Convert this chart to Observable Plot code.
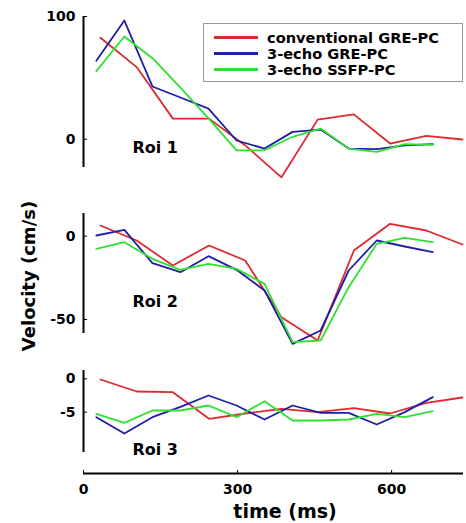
<!DOCTYPE html>
<html><head><meta charset="utf-8">
<script src="https://cdn.jsdelivr.net/npm/d3@7"></script>
<script src="https://cdn.jsdelivr.net/npm/@observablehq/plot@0.6"></script>
<style>
body{margin:0;background:#fff;}
#chart{position:relative;width:466px;height:523px;font-family:"DejaVu Sans",sans-serif;font-weight:bold;color:#000;overflow:hidden;}
#chart svg{position:absolute;left:0;overflow:visible;background:transparent;}
.lbl{position:absolute;white-space:nowrap;line-height:1;}
#legend{position:absolute;left:203px;top:23px;width:258px;height:57px;border:1px solid #999;background:#fff;}
.row{position:absolute;left:0;height:15px;}
.sw{position:absolute;left:10px;width:44px;height:3px;top:6px;}
.tx{position:absolute;left:63px;top:0;font-size:14.6px;line-height:15px;white-space:nowrap;}
</style></head><body><div id="chart"></div>
<script>
const seriesNames = ["conventional GRE-PC", "3-echo GRE-PC", "3-echo SSFP-PC"];
const seriesColors = ["#dc2a2e", "#1e1ea6", "#30e030"];
const roiLabels = ["Roi 1", "Roi 2", "Roi 3"];
const xTicks = [0, 300, 600];
const yTicks1 = [0, 100];
const yTicks2 = [-50, 0];
const yTicks3 = [-5, 0];

// time samples (ms)
const tConv = [33, 103.5, 174, 244.5, 315, 385.5, 456, 526.5, 597, 667.5, 738];
const tEcho = [25, 79.6, 134.2, 188.8, 243.4, 298, 352.6, 407.2, 461.8, 516.4, 571, 625.6, 680.2];

// Roi 1
const conv1 = [82.7, 58.8, 16.8, 16.8, -5, -31, 16, 20.3, -3.5, 2.7, -0.2];
const gre1  = [64, 96.7, 43, 34, 25, -1, -7.6, 6, 7.9, -7.6, -8.1, -4.9, -4];
const ssfp1 = [55.5, 83.7, 66, 42, 17, -9, -9, 2, 8.7, -7.6, -10.3, -4, -4.5];
// Roi 2
const conv2 = [6.4, -2.6, -17.6, -5.6, -14.6, -48.6, -62.6, -8.6, 7.4, 3.4, -5];
const gre2  = [0.4, 3.8, -16.2, -21.6, -12, -20.2, -32.6, -64.6, -56.6, -20.6, -2.6, -6.2, -9.6];
const ssfp2 = [-7.6, -3.6, -13.6, -20.2, -16.6, -19.6, -28.6, -63.6, -62.6, -30.6, -4.6, -1, -3.6];
// Roi 3
const conv3 = [-0.1, -1.9, -2, -6, -5.2, -4.5, -5, -4.4, -5.2, -3.6, -2.8];
const gre3  = [-5.75, -8.2, -5.75, -4.2, -2.5, -4, -6.1, -4, -5.1, -5.1, -6.85, -5, -2.75];
const ssfp3 = [-5.25, -6.6, -4.75, -4.75, -4, -5.75, -3.35, -6.25, -6.25, -6.1, -5.25, -5.75, -4.85];

function table(conv, gre, ssfp) {
  return [
    ...conv.map((v, i) => ({t: tConv[i], v, s: seriesNames[0]})),
    ...gre.map((v, i) => ({t: tEcho[i], v, s: seriesNames[1]})),
    ...ssfp.map((v, i) => ({t: tEcho[i], v, s: seriesNames[2]}))
  ];
}

const chart = document.getElementById("chart");
const font = {fontFamily: "DejaVu Sans", fontWeight: "bold"};

function panel({data, domain, ticks, top, height, mt, mb, label, labelDy, last}) {
  const marks = [
    Plot.ruleX([0], {strokeWidth: 2}),
    Plot.axisY({ticks, label: null, tickSize: -4, tickPadding: 12, fontSize: 14, fontWeight: "bold", tickFormat: d => String(d)}),
    Plot.line(data, {x: "t", y: "v", z: "s", stroke: "s", strokeWidth: 1.8}),
    Plot.text([label], {frameAnchor: "top-left", dx: 49, dy: labelDy, fontSize: 16, fontWeight: "bold", textAnchor: "start"})
  ];
  if (last) {
    marks.push(
      Plot.ruleY([domain[0]], {dy: 21, strokeWidth: 2}),
      Plot.axisX({ticks: xTicks, label: null, tickSize: -3, tickPadding: 14, dy: 21, fontSize: 14, fontWeight: "bold", tickFormat: d => String(d)})
    );
  }
  const p = Plot.plot({
    width: 466, height,
    marginLeft: 83, marginRight: 3, marginTop: mt, marginBottom: mb,
    style: {...font, background: "transparent", overflow: "visible"},
    x: {domain: [0, 740], label: null, axis: last ? undefined : null},
    y: {domain, label: null},
    color: {domain: seriesNames, range: seriesColors},
    marks
  });
  p.style.top = top + "px";
  chart.appendChild(p);
}

panel({data: table(conv1, gre1, ssfp1), domain: [-23, 100], ticks: yTicks1, top: 0, height: 185, mt: 16, mb: 18, label: roiLabels[0], labelDy: 125.5});
panel({data: table(conv2, gre2, ssfp2), domain: [-58.4, 13.6], ticks: yTicks2, top: 185, height: 170, mt: 28, mb: 22, label: roiLabels[1], labelDy: 82.5});
panel({data: table(conv3, gre3, ssfp3), domain: [-11.05, 1.25], ticks: yTicks3, top: 355, height: 168, mt: 15, mb: 71, label: roiLabels[2], labelDy: 73.5, last: true});

// axis titles
const yl = document.createElement("div");
yl.className = "lbl";
yl.textContent = "Velocity (cm/s)";
Object.assign(yl.style, {left: "29px", top: "276px", fontSize: "18px", transform: "translate(-50%,-50%) rotate(-90deg)"});
chart.appendChild(yl);

const xl = document.createElement("div");
xl.className = "lbl";
xl.textContent = "time (ms)";
Object.assign(xl.style, {left: "285px", top: "502px", fontSize: "19px", transform: "translateX(-50%)"});
chart.appendChild(xl);

// legend
const lg = document.createElement("div");
lg.id = "legend";
seriesNames.forEach((name, i) => {
  const row = document.createElement("div");
  row.className = "row";
  row.style.top = (6 + i * 16) + "px";
  row.style.width = "100%";
  const sw = document.createElement("div");
  sw.className = "sw";
  sw.style.background = seriesColors[i];
  const tx = document.createElement("div");
  tx.className = "tx";
  tx.textContent = name;
  row.appendChild(sw); row.appendChild(tx);
  lg.appendChild(row);
});
chart.appendChild(lg);
</script></body></html>
